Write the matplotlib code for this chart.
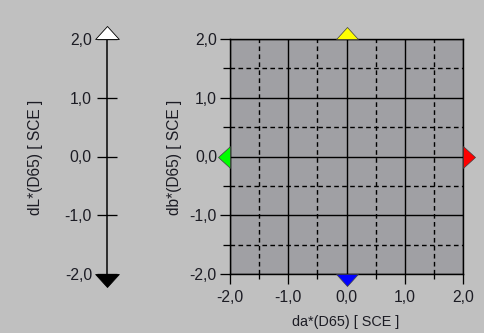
import matplotlib
matplotlib.use("Agg")
import matplotlib.pyplot as plt
from matplotlib.path import Path
from matplotlib.ticker import FixedLocator

plt.rcParams["font.family"] = ["Liberation Sans", "DejaVu Sans"]

# Scale range and tick values for the colour-difference axes
axis_range = [-2.0, 2.0]
major_ticks = [-2.0, -1.0, 0.0, 1.0, 2.0]
minor_ticks = [-1.5, -0.5, 0.5, 1.5]
tick_labels = ["-2,0", "-1,0", "0,0", "1,0", "2,0"]

# Direction markers: (da, db, direction, colour)
ab_markers = [
    (0.0, 2.0, "up", "#ffff00"),
    (0.0, -2.0, "down", "#0000ff"),
    (2.0, 0.0, "right", "#ff0000"),
    (-2.0, 0.0, "left", "#00ff00"),
]
# Lightness markers: (dL, direction, colour)
l_markers = [
    (2.0, "up", "#ffffff"),
    (-2.0, "down", "#000000"),
]

label_da = "da*(D65) [ SCE ]"
label_db = "db*(D65) [ SCE ]"
label_dl = "dL*(D65) [ SCE ]"

W, H, DPI = 484, 333, 100
BG = "#c0c0c0"
FACE = "#a0a0a4"
TXT = "#1c1c24"
FS = 11.3
FS_LABEL = 10.4
FS_LABEL_V = 11.2


def px(v):
    return v * 72.0 / DPI


def tri(direction):
    base = {
        "up": [(-1, 0), (1, 0), (0, 1.1), (-1, 0)],
        "down": [(-1, 0), (1, 0), (0, -1.1), (-1, 0)],
        "right": [(0, -1), (0, 1), (1.1, 0), (0, -1)],
        "left": [(0, -1), (0, 1), (-1.1, 0), (0, -1)],
    }[direction]
    codes = [Path.MOVETO, Path.LINETO, Path.LINETO, Path.CLOSEPOLY]
    return Path(base, codes)


fig = plt.figure(figsize=(W / DPI, H / DPI), dpi=DPI, facecolor=BG)

# ---- a*/b* plane ----
x0, x1 = 230, 463
y_top, y_bot = 39, 274
ax = fig.add_axes([x0 / W, 1 - y_bot / H, (x1 - x0) / W, (y_bot - y_top) / H])
ax.set_facecolor(FACE)
ax.set_xlim(axis_range)
ax.set_ylim(axis_range)
for s in ax.spines.values():
    s.set_linewidth(px(1.4))
    s.set_color("black")
ax.xaxis.set_major_locator(FixedLocator(major_ticks))
ax.yaxis.set_major_locator(FixedLocator(major_ticks))
ax.xaxis.set_minor_locator(FixedLocator(minor_ticks))
ax.yaxis.set_minor_locator(FixedLocator(minor_ticks))
ax.set_xticklabels(tick_labels)
ax.set_yticklabels(tick_labels)
ax.tick_params(axis="both", which="major", direction="out", length=px(10),
               width=px(1.3), color="black", labelsize=FS, labelcolor=TXT)
ax.tick_params(axis="x", which="minor", direction="out", length=px(5),
               width=px(1.3), color="black")
ax.tick_params(axis="y", which="minor", direction="out", length=px(7),
               width=px(1.3), color="black")
ax.tick_params(axis="x", which="major", pad=px(6))
ax.tick_params(axis="y", which="major", pad=px(3))
ax.grid(True, which="major", color="black", linewidth=px(1.4), linestyle="-")
ax.grid(True, which="minor", color="black", linewidth=px(1.4),
        linestyle=(0, (3.3, 2.4)))
ax.set_axisbelow(True)

for da, db, d, c in ab_markers:
    ax.plot([da], [db], marker=tri(d), markersize=px(24), color=c,
            markeredgecolor="#404040", markeredgewidth=0.5, clip_on=False,
            zorder=5, linestyle="none")

fig.text(346 / W, 1 - 322 / H, label_da, ha="center", va="center",
         fontsize=FS_LABEL, color=TXT)
fig.text(175 / W, 1 - 157 / H, label_db, ha="center", va="center",
         rotation=90, fontsize=FS_LABEL_V, color=TXT)

# ---- L* scale ----
lx = 107
axl = fig.add_axes([lx / W, 1 - y_bot / H, 40 / W, (y_bot - y_top) / H])
axl.patch.set_visible(False)
axl.set_xlim(0, 1)
axl.set_ylim(axis_range)
for k in ("top", "right", "bottom"):
    axl.spines[k].set_visible(False)
axl.spines["left"].set_linewidth(px(1.5))
axl.spines["left"].set_color("black")
axl.set_xticks([])
axl.yaxis.set_major_locator(FixedLocator(major_ticks))
axl.set_yticklabels(tick_labels)
axl.tick_params(axis="y", direction="inout", length=px(20), width=px(1.3),
                color="black", labelsize=FS, labelcolor=TXT, pad=px(5))

for dl, d, c in l_markers:
    axl.plot([0.0], [dl], marker=tri(d), markersize=px(26), color=c,
             markeredgecolor="black", markeredgewidth=0.6, clip_on=False,
             zorder=5, linestyle="none")

fig.text(35.5 / W, 1 - 157 / H, label_dl, ha="center", va="center",
         rotation=90, fontsize=FS_LABEL_V, color=TXT)

fig.savefig("out.png", dpi=DPI, facecolor=BG)
